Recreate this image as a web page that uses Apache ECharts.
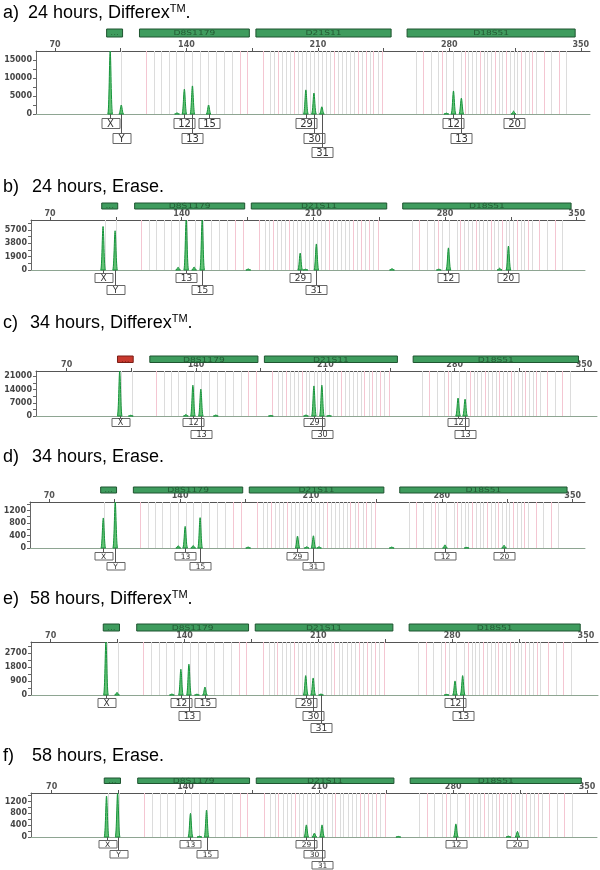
<!DOCTYPE html>
<html><head><meta charset="utf-8">
<script src="https://cdn.jsdelivr.net/npm/echarts@6/dist/echarts.min.js"></script>
<style>html,body{margin:0;padding:0;background:#fff}#c{width:600px;height:870px}</style>
</head><body><div id="c"></div>
<script>
// ---------------- data ----------------
const panelLetters = ['a)', 'b)', 'c)', 'd)', 'e)', 'f)'];
const panelTitles = ['24 hours, Differex', '24 hours, Erase', '34 hours, Differex', '34 hours, Erase', '58 hours, Differex', '58 hours, Erase'];
const panelTrademark = [true, false, true, false, true, false];

const xLabelValues = [70, 140, 210, 280, 350];
const xTickValues = [70, 105, 140, 175, 210, 245, 280, 315, 350];

const locusNames = ['...', 'D8S1179', 'D21S11', 'D18S51'];
const locusStart = [97.5, 115, 177, 257.5];
const locusEnd = [106, 173.5, 249, 347];

// allele bins (bp); pink = virtual / off-ladder bins
const amelBins = [99.4, 105.3];
const d8Bins = [118.5, 122.7, 126.6, 130.5, 134.5, 138.7, 142.9, 147.0, 151.3, 155.6, 160.0, 164.2, 168.3, 172.4];
const d8Pink = [118.5, 168.3, 172.4];
const d21Bins = [181.0, 184.4, 186.6, 188.6, 190.9, 193.0, 195.1, 197.1, 199.4, 201.4, 203.6, 205.6, 207.9, 209.9, 212.1, 214.1, 216.4, 218.4, 220.6, 222.6, 224.9, 226.9, 229.1, 231.1, 233.4, 235.4, 237.6, 239.6, 241.9, 244.2];
const d21Pink = [181.0, 188.6, 197.1, 218.4, 231.1, 235.4, 239.6, 244.2];
const d18Bins = [262.2, 266.2, 270.2, 274.2, 276.2, 278.2, 282.2, 286.3, 288.2, 290.2, 292.2, 294.2, 296.2, 298.2, 300.2, 302.2, 304.2, 306.2, 308.2, 310.2, 312.2, 314.2, 316.2, 318.2, 320.2, 322.2, 324.2, 326.2, 330.2, 334.2, 338.2, 342.2];
const d18Pink = [266.2, 276.2, 288.2, 296.2, 304.2, 310.2, 318.2, 324.2, 330.2, 338.2];

// panel a) 24 h Differex
const aPeakBp = [99.4, 105.3, 135.0, 138.9, 143.2, 151.8, 203.6, 207.9, 212.1, 278.4, 282.2, 286.4, 314.2];
const aPeakHeight = [21000, 2500, 300, 6900, 7800, 2500, 6700, 5800, 2000, 250, 6400, 4400, 800];
const aPeakAllele = ['X', 'Y', '', '12', '13', '15', '29', '30', '31', '', '12', '13', '20'];
const aYLabels = [0, 5000, 10000, 15000];
// panel b) 24 h Erase
const bPeakBp = [98.2, 104.6, 138.1, 142.4, 146.6, 150.9, 175.4, 203.0, 205.8, 211.6, 251.8, 276.7, 281.8, 309.0, 313.7];
const bPeakHeight = [6180, 5570, 400, 9000, 430, 9000, 150, 2400, 120, 3700, 200, 120, 3140, 260, 3400];
const bPeakAllele = ['X', 'Y', '', '13', '', '15', '', '29', '', '31', '', '', '12', '', '20'];
const bYLabels = [0, 1900, 3800, 5700];
// panel c) 34 h Differex
const cPeakBp = [98.7, 104.7, 134.5, 138.3, 142.6, 150.7, 180.5, 199.5, 203.8, 208.1, 212.0, 281.8, 285.6];
const cPeakHeight = [30000, 400, 800, 16300, 14200, 500, 300, 500, 15900, 16300, 300, 9500, 8900];
const cPeakAllele = ['X', '', '', '12', '13', '', '', '', '29', '30', '', '12', '13'];
const cYLabels = [0, 7000, 14000, 21000];
// panel d) 34 h Erase
const dPeakBp = [98.9, 105.3, 139.0, 142.7, 147.0, 150.7, 176.4, 202.8, 207.7, 211.3, 214.3, 253.2, 281.7, 293.3, 313.3];
const dPeakHeight = [960, 1800, 75, 690, 80, 970, 30, 380, 40, 390, 40, 30, 100, 20, 90];
const dPeakAllele = ['X', 'Y', '', '13', '', '15', '', '29', '', '31', '', '', '12', '', '20'];
const dYLabels = [0, 400, 800, 1200];
// panel e) 58 h Differex
const ePeakBp = [98.9, 104.7, 133.4, 138.1, 142.3, 146.5, 150.7, 203.4, 207.3, 211.4, 277.1, 281.5, 285.5];
const ePeakHeight = [4500, 170, 60, 1650, 1970, 50, 510, 1240, 1090, 60, 40, 900, 1240];
const ePeakAllele = ['X', '', '', '12', '13', '', '15', '29', '30', '31', '', '12', '13'];
const eYLabels = [0, 900, 1800, 2700];
// panel f) 58 h Erase
const fPeakBp = [98.7, 104.5, 142.6, 147.3, 151.0, 203.2, 207.4, 211.4, 251.3, 281.4, 308.9, 313.6];
const fPeakHeight = [1387, 1700, 800, 30, 910, 410, 130, 410, 20, 443, 30, 190];
const fPeakAllele = ['X', 'Y', '13', '', '15', '29', '30', '31', '', '12', '', '20'];
const fYLabels = [0, 400, 800, 1200];

// ---------------- layout ----------------
const layout = [
  {left: 36, right: 590, top: 51, base: 114, xMin: 59.9, xMax: 354.9, yMax: 17500, locusTop: 22, locusH: 8, row0: 4, rowStep: 14.5, boxH: 10, titleY: 13, textX: 28, amelRed: false},
  {left: 31, right: 585, top: 220, base: 270, xMin: 59.9, xMax: 354.4, yMax: 7100, locusTop: 17, locusH: 6, row0: 2.7, rowStep: 12.5, boxH: 9, titleY: 187, textX: 32, amelRed: false},
  {left: 36, right: 597, top: 371, base: 416, xMin: 53.4, xMax: 357, yMax: 23800, locusTop: 15, locusH: 6.5, row0: 2.3, rowStep: 11.7, boxH: 8, titleY: 323, textX: 30, amelRed: true},
  {left: 30, right: 585, top: 502, base: 548, xMin: 59.7, xMax: 356.6, yMax: 1470, locusTop: 15, locusH: 6, row0: 4, rowStep: 9.5, boxH: 7.5, titleY: 457, textX: 32, amelRed: false},
  {left: 31, right: 598, top: 642, base: 695, xMin: 59.7, xMax: 356.3, yMax: 3390, locusTop: 18, locusH: 7, row0: 3.3, rowStep: 12.5, boxH: 9, titleY: 599, textX: 30, amelRed: false},
  {left: 31, right: 597, top: 793, base: 837, xMin: 59.2, xMax: 355.2, yMax: 1490, locusTop: 15, locusH: 5.5, row0: 2.7, rowStep: 10.6, boxH: 7.5, titleY: 756, textX: 32, amelRed: false}
];

const panelData = [
  {bp: aPeakBp, h: aPeakHeight, al: aPeakAllele, yl: aYLabels},
  {bp: bPeakBp, h: bPeakHeight, al: bPeakAllele, yl: bYLabels},
  {bp: cPeakBp, h: cPeakHeight, al: cPeakAllele, yl: cYLabels},
  {bp: dPeakBp, h: dPeakHeight, al: dPeakAllele, yl: dYLabels},
  {bp: ePeakBp, h: ePeakHeight, al: ePeakAllele, yl: eYLabels},
  {bp: fPeakBp, h: fPeakHeight, al: fPeakAllele, yl: fYLabels}
];

const allBins = [];
amelBins.forEach(b => allBins.push([b, 0]));
d8Bins.forEach(b => allBins.push([b, d8Pink.includes(b) ? 1 : 0]));
d21Bins.forEach(b => allBins.push([b, d21Pink.includes(b) ? 1 : 0]));
d18Bins.forEach(b => allBins.push([b, d18Pink.includes(b) ? 1 : 0]));

function boxWidth(s) { return s.length > 1 ? 21 : 18; }

function assignRows(bps, labels, L) {
  const ppb = (L.right - L.left) / (L.xMax - L.xMin);
  const rows = [];
  const out = [];
  bps.forEach((bp, k) => {
    if (!labels[k]) return;
    const x = bp * ppb, w = boxWidth(labels[k]);
    let r = 0;
    while (rows[r] && rows[r].some(([a, b]) => x - w / 2 < b && x + w / 2 > a)) r++;
    (rows[r] = rows[r] || []).push([x - w / 2, x + w / 2]);
    out.push([bp, r, k]);
  });
  return out;
}

const grids = [], xAxes = [], yAxes = [], series = [], titles = [];
const FONT = 'DejaVu Sans';
const plain = v => String(v);

layout.forEach((L, i) => {
  const P = panelData[i];
  grids.push({left: L.left, top: L.top, width: L.right - L.left, height: L.base - L.top});
  xAxes.push({
    gridIndex: i, type: 'value', position: 'top', min: L.xMin, max: L.xMax,
    axisLine: {show: true, onZero: false, lineStyle: {color: '#555', width: 1}},
    axisTick: {show: true, customValues: xTickValues, length: 3, lineStyle: {color: '#555'}},
    axisLabel: {show: true, customValues: xLabelValues, formatter: plain, fontSize: 8, fontWeight: 'bold', color: '#555', margin: 2, fontFamily: FONT},
    splitLine: {show: false}
  });
  xAxes.push({
    gridIndex: i, type: 'value', position: 'bottom', min: L.xMin, max: L.xMax,
    axisLine: {show: true, onZero: false, lineStyle: {color: '#8ea592', width: 1}},
    axisTick: {show: false}, axisLabel: {show: false}, splitLine: {show: false}
  });
  const yl = P.yl;
  const step = yl[1] - yl[0];
  const yTicks = [];
  for (let k = 0; k < yl.length; k++) {
    yTicks.push(yl[k]);
    if (yl[k] + step / 2 < L.yMax) yTicks.push(yl[k] + step / 2);
  }
  yAxes.push({
    gridIndex: i, type: 'value', min: 0, max: L.yMax,
    axisLine: {show: true, onZero: false, lineStyle: {color: '#666'}},
    axisTick: {show: true, customValues: yTicks, length: 3, lineStyle: {color: '#666'}},
    axisLabel: {show: true, customValues: yl, formatter: plain, fontSize: 8, fontWeight: 'bold', color: '#444', margin: 4, fontFamily: FONT},
    splitLine: {show: false}
  });

  // bin lines
  series.push({
    type: 'custom', xAxisIndex: 2 * i, yAxisIndex: i, silent: true, z: 1,
    data: allBins,
    renderItem: (params, api) => {
      const cs = params.coordSys;
      const x = Math.round(api.coord([api.value(0), 0])[0]) + 0.5;
      return {type: 'line', shape: {x1: x, y1: cs.y, x2: x, y2: cs.y + cs.height},
        style: {stroke: api.value(1) ? '#f4c6d2' : '#dcdcdc', lineWidth: 1}};
    }
  });

  // peaks
  series.push({
    type: 'custom', xAxisIndex: 2 * i, yAxisIndex: i, silent: true, z: 3,
    data: P.bp.map((b, k) => [b, P.h[k]]),
    renderItem: (params, api) => {
      const cs = params.coordSys;
      const base = api.coord([api.value(0), 0]);
      const top = api.coord([api.value(0), api.value(1)]);
      const yTop = Math.max(cs.y, top[1]);
      const x = base[0], y0 = base[1], w = 2.4;
      return {type: 'path', shape: {pathData:
        'M' + (x - w) + ' ' + y0 + ' C' + (x - w * 0.45) + ' ' + y0 + ' ' + (x - w * 0.3) + ' ' + yTop + ' ' + x + ' ' + yTop +
        ' C' + (x + w * 0.3) + ' ' + yTop + ' ' + (x + w * 0.45) + ' ' + y0 + ' ' + (x + w) + ' ' + y0 + ' Z'},
        style: {fill: '#63c275', stroke: '#15943a', lineWidth: 1}};
    }
  });

  // locus bars
  series.push({
    type: 'custom', xAxisIndex: 2 * i, yAxisIndex: i, silent: true, z: 4, clip: false,
    data: locusStart.map((s, k) => [s, locusEnd[k]]),
    renderItem: (params, api) => {
      const idx = params.dataIndex;
      const cs = params.coordSys;
      const x1 = api.coord([locusStart[idx], 0])[0], x2 = api.coord([locusEnd[idx], 0])[0];
      const y = cs.y - L.locusTop;
      const red = idx === 0 && L.amelRed;
      return {type: 'group', children: [
        {type: 'rect', shape: {x: x1, y: y, width: x2 - x1, height: L.locusH},
          style: {fill: red ? '#c8392e' : '#3f9c5e', stroke: red ? '#7a1d16' : '#1f5530', lineWidth: 1}},
        {type: 'text', x: (x1 + x2) / 2, y: y + L.locusH / 2 + 0.5, scaleX: 1.3,
          style: {x: 0, y: 0, text: locusNames[idx], align: 'center', verticalAlign: 'middle',
            fontSize: 7, fontFamily: FONT, fill: red ? '#7a1d16' : '#245a34'}}
      ]};
    }
  });

  // allele labels
  const rowsData = assignRows(P.bp, P.al, L);
  series.push({
    type: 'custom', xAxisIndex: 2 * i, yAxisIndex: i, silent: true, z: 5, clip: false,
    data: rowsData,
    renderItem: (params, api) => {
      const bp = api.value(0), row = api.value(1), k = api.value(2);
      const label = P.al[k];
      const c = api.coord([bp, 0]);
      const w = boxWidth(label);
      const xc = Math.round(c[0]) + 0.5;
      const yTop = Math.round(c[1] + L.row0 + row * L.rowStep) + 0.5;
      return {type: 'group', children: [
        {type: 'line', shape: {x1: xc, y1: c[1], x2: xc, y2: yTop}, style: {stroke: '#555', lineWidth: 1}},
        {type: 'rect', shape: {x: Math.round(xc - w / 2), y: yTop, width: w, height: L.boxH},
          style: {fill: '#fff', stroke: '#666', lineWidth: 1}},
        {type: 'text', style: {x: xc, y: yTop + L.boxH / 2 + 0.5, text: label, align: 'center', verticalAlign: 'middle',
          fontSize: L.boxH, fontFamily: FONT, fill: '#333'}}
      ]};
    }
  });

  // titles
  const mStyle = {fontSize: 18, lineHeight: 20, fontWeight: 'normal', fontFamily: 'Liberation Sans', color: '#000'};
  titles.push({left: 3, top: L.titleY - 10, padding: 0, text: '{m|' + panelLetters[i] + '}',
    textStyle: {fontWeight: 'normal', rich: {m: mStyle}}});
  titles.push({left: L.textX, top: L.titleY - 10, padding: 0,
    text: '{m|' + panelTitles[i] + '}' + (panelTrademark[i] ? '{s|TM}' : '') + '{m|.}',
    textStyle: {fontWeight: 'normal', rich: {
      m: mStyle,
      s: {fontSize: 11, lineHeight: 8, verticalAlign: 'top', fontWeight: 'normal', fontFamily: 'Liberation Sans', color: '#000'}
    }}});
});

const chart = echarts.init(document.getElementById('c'), null, {renderer: 'canvas', width: 600, height: 870});
chart.setOption({
  backgroundColor: '#fff',
  animation: false,
  title: titles,
  grid: grids,
  xAxis: xAxes,
  yAxis: yAxes,
  series: series
});
</script>
</body></html>
